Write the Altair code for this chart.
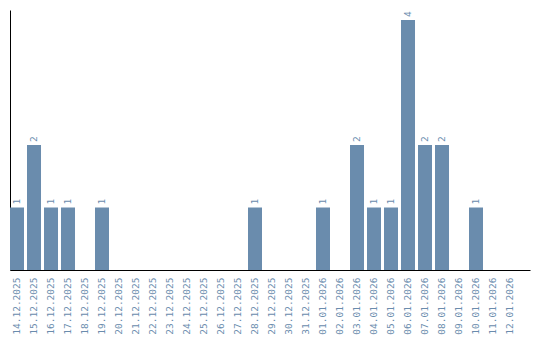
import altair as alt
import pandas as pd

dates = ["14.12.2025", "15.12.2025", "16.12.2025", "17.12.2025", "18.12.2025",
         "19.12.2025", "20.12.2025", "21.12.2025", "22.12.2025", "23.12.2025",
         "24.12.2025", "25.12.2025", "26.12.2025", "27.12.2025", "28.12.2025",
         "29.12.2025", "30.12.2025", "31.12.2025", "01.01.2026", "02.01.2026",
         "03.01.2026", "04.01.2026", "05.01.2026", "06.01.2026", "07.01.2026",
         "08.01.2026", "09.01.2026", "10.01.2026", "11.01.2026", "12.01.2026"]
counts = [1, 2, 1, 1, 0, 1, 0, 0, 0, 0, 0, 0, 0, 0, 1, 0, 0, 0, 1, 0,
          2, 1, 1, 4, 2, 2, 0, 1, 0, 0]

df = pd.DataFrame({"date": dates, "count": counts})
df["label"] = df["count"].apply(lambda v: str(v) if v > 0 else "")

color = "#6a8cad"
font = "DejaVu Sans Mono"

x = alt.X("date:N", sort=dates, title=None,
          scale=alt.Scale(paddingInner=0.176, paddingOuter=0.382, align=0),
          axis=alt.Axis(labelAngle=-90, labelFont=font, labelFontSize=9.5,
                        labelColor=color, ticks=False, domainColor="black",
                        labelPadding=7, labelAlign="right", labelBaseline="middle"))
y = alt.Y("count:Q", title=None, scale=alt.Scale(domain=[0, 4.16], nice=False),
          axis=alt.Axis(labels=False, ticks=False, grid=False, domainColor="black",
                        domainWidth=1))

bars = alt.Chart(df).mark_bar(color=color).encode(x=x, y=y)
text = alt.Chart(df).mark_text(angle=270, align="left", baseline="middle",
                               dx=3, font=font, fontSize=9.5, color=color).encode(
    x=alt.X("date:N", sort=dates), y="count:Q", text="label:N")

chart = (bars + text).properties(width=520, height=260, padding={"left": 10, "top": 10, "right": 10, "bottom": 0}).configure_view(stroke=None).configure_axis(grid=False)
chart.save("out.html", embed_options={"renderer": "svg", "actions": False})
